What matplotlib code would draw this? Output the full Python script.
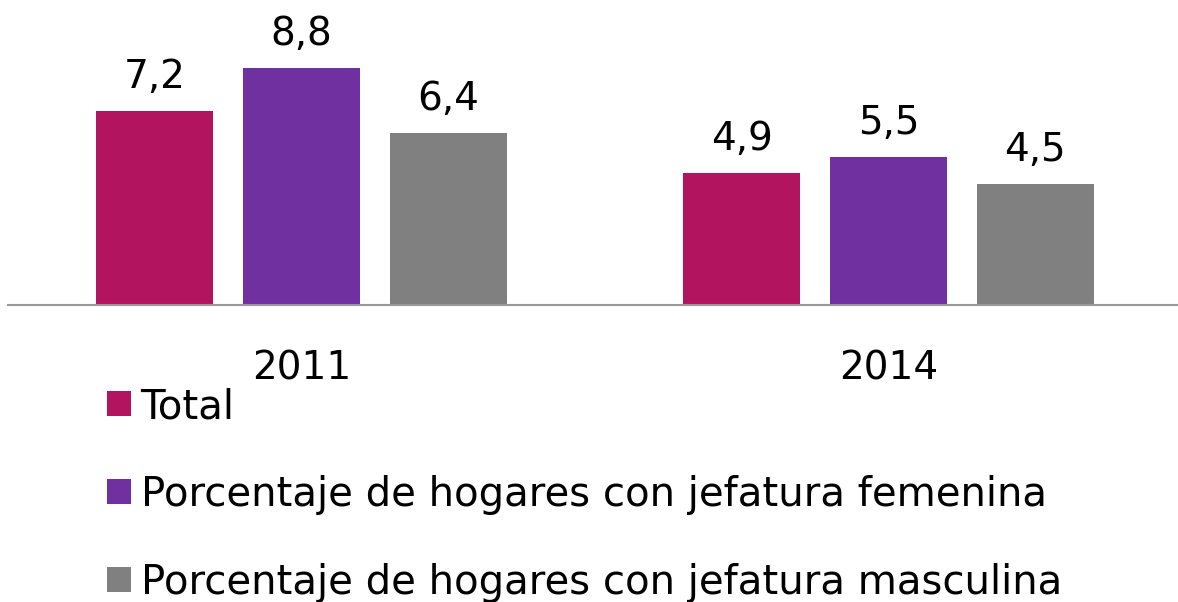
import matplotlib.pyplot as plt
import numpy as np

years = ["2011", "2014"]
series = ["Total",
          "Porcentaje de hogares con jefatura femenina",
          "Porcentaje de hogares con jefatura masculina"]
values = [[7.2, 4.9], [8.8, 5.5], [6.4, 4.5]]
colors = ["#B2145F", "#7030A0", "#808080"]

plt.rcParams["font.family"] = ["DejaVu Sans"]

fig = plt.figure(figsize=(11.78, 6.02), dpi=100)
ax = fig.add_axes([8 / 1178, 297 / 602, 1174 / 1178, 305 / 602])

x = np.arange(len(years))
offsets = [-0.25, 0, 0.25]
for vals, off, col, name in zip(values, offsets, colors, series):
    bars = ax.bar(x + off, vals, width=0.2, color=col, label=name)
    for b, v in zip(bars, vals):
        ax.text(b.get_x() + b.get_width() / 2, v + 0.55, f"{v:.1f}".replace(".", ","),
                ha="center", va="bottom", fontsize=28, color="black")

ax.set_xlim(-0.5, 1.5)
ax.set_ylim(0, 11.33)
ax.set_yticks([])
ax.set_xticks(x)
ax.set_xticklabels(years, fontsize=28, color="black")
ax.tick_params(axis="x", length=0, pad=32)
for s in ["top", "left", "right"]:
    ax.spines[s].set_visible(False)
ax.spines["bottom"].set_color("#999999")
ax.spines["bottom"].set_linewidth(1.5)

fig.legend(loc="upper left", bbox_to_anchor=(87 / 1178, 1 - 367 / 602),
           frameon=False, fontsize=29, handlelength=0.58, handleheight=0.58,
           handletextpad=0.25, labelspacing=1.19, borderpad=0, labelcolor="black")

fig.savefig("out.png", dpi=100)
